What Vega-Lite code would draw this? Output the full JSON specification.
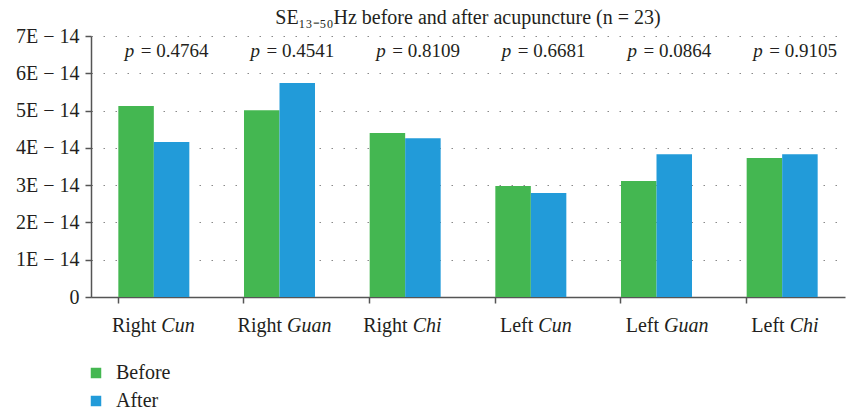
{
  "$schema": "https://vega.github.io/schema/vega-lite/v6.json",
  "width": 754,
  "height": 261,
  "autosize": {"type": "none"},
  "padding": {"left": 91, "top": 36, "right": 2, "bottom": 115},
  "background": "white",
  "config": {
    "font": "Liberation Serif",
    "view": {"stroke": null}
  },
  "title": {
    "text": "SE₁₃₋₅₀Hz before and after acupuncture (n = 23)",
    "font": "Liberation Serif",
    "fontSize": 20,
    "fontWeight": "normal",
    "color": "#231f20",
    "anchor": "middle",
    "offset": -2
  },
  "resolve": {"axis": {"y": "independent"}},
  "datasets": {
    "bars": [
      {"site": "Right Cun", "group": "Before", "value": 5.12e-14},
      {"site": "Right Cun", "group": "After", "value": 4.16e-14},
      {"site": "Right Guan", "group": "Before", "value": 5.01e-14},
      {"site": "Right Guan", "group": "After", "value": 5.74e-14},
      {"site": "Right Chi", "group": "Before", "value": 4.40e-14},
      {"site": "Right Chi", "group": "After", "value": 4.26e-14},
      {"site": "Left Cun", "group": "Before", "value": 2.98e-14},
      {"site": "Left Cun", "group": "After", "value": 2.79e-14},
      {"site": "Left Guan", "group": "Before", "value": 3.11e-14},
      {"site": "Left Guan", "group": "After", "value": 3.83e-14},
      {"site": "Left Chi", "group": "Before", "value": 3.73e-14},
      {"site": "Left Chi", "group": "After", "value": 3.83e-14}
    ],
    "labels": [
      {"site": "Right Cun", "side": "Right", "point": "Cun", "p": "= 0.4764"},
      {"site": "Right Guan", "side": "Right", "point": "Guan", "p": "= 0.4541"},
      {"site": "Right Chi", "side": "Right", "point": "Chi", "p": "= 0.8109"},
      {"site": "Left Cun", "side": "Left", "point": "Cun", "p": "= 0.6681"},
      {"site": "Left Guan", "side": "Left", "point": "Guan", "p": "= 0.0864"},
      {"site": "Left Chi", "side": "Left", "point": "Chi", "p": "= 0.9105"}
    ]
  },
  "encoding": {
    "x": {
      "field": "site",
      "type": "nominal",
      "sort": ["Right Cun", "Right Guan", "Right Chi", "Left Cun", "Left Guan", "Left Chi"],
      "scale": {"paddingInner": 0.435, "paddingOuter": 0.2175},
      "axis": {
        "title": null,
        "labels": false,
        "bandPosition": 0,
        "tickSize": 6,
        "tickColor": "#555555",
        "tickWidth": 1.5,
        "domainColor": "#555555",
        "domainWidth": 1.5,
        "grid": false
      }
    }
  },
  "layer": [
    {
      "data": {"name": "bars"},
      "mark": {"type": "bar"},
      "encoding": {
        "xOffset": {"field": "group", "type": "nominal", "sort": ["Before", "After"], "scale": {"paddingInner": 0, "paddingOuter": 0}},
        "y": {
          "field": "value",
          "type": "quantitative",
          "scale": {"domain": [0, 7e-14], "nice": false},
          "axis": {
            "title": null,
            "values": [0, 1e-14, 2e-14, 3e-14, 4e-14, 5e-14, 6e-14, 7e-14],
            "labelExpr": "datum.value == 0 ? '0' : round(datum.value * 1e14) + 'E − 14'",
            "labelFont": "Liberation Serif",
            "labelFontSize": 20,
            "labelColor": "#231f20",
            "labelOverlap": false,
            "labelPadding": 6,
            "tickSize": 6,
            "tickColor": "#555555",
            "tickWidth": 1.5,
            "domainColor": "#555555",
            "domainWidth": 1.5,
            "grid": true,
            "gridColor": "#8a8a8a",
            "gridDash": [1.5, 10.5],
            "gridWidth": 1.2
          }
        },
        "color": {
          "field": "group",
          "type": "nominal",
          "sort": ["Before", "After"],
          "scale": {"domain": ["Before", "After"], "range": ["#44b751", "#229bd9"]},
          "legend": {
            "title": null,
            "orient": "none",
            "legendX": -5,
            "legendY": 327,
            "direction": "vertical",
            "symbolType": "square",
            "symbolSize": 110,
            "symbolStrokeWidth": 0,
            "labelFont": "Liberation Serif",
            "labelFontSize": 20,
            "labelColor": "#231f20",
            "labelOffset": 10,
            "rowPadding": 8,
            "padding": 0
          }
        }
      }
    },
    {
      "data": {"name": "labels"},
      "mark": {"type": "text", "align": "right", "baseline": "alphabetic", "dx": 2.5, "dy": 35, "fontSize": 20, "font": "Liberation Serif", "color": "#231f20"},
      "encoding": {
        "y": {"datum": 0, "type": "quantitative", "axis": null},
        "text": {"field": "side"}
      }
    },
    {
      "data": {"name": "labels"},
      "mark": {"type": "text", "align": "left", "baseline": "alphabetic", "dx": 7.5, "dy": 35, "fontSize": 20, "font": "Liberation Serif", "fontStyle": "italic", "color": "#231f20"},
      "encoding": {
        "y": {"datum": 0, "type": "quantitative", "axis": null},
        "text": {"field": "point"}
      }
    },
    {
      "data": {"name": "labels"},
      "mark": {"type": "text", "align": "left", "baseline": "alphabetic", "dx": -29, "fontSize": 19, "font": "Liberation Serif", "fontStyle": "italic", "color": "#231f20"},
      "encoding": {
        "y": {"datum": 6.44e-14, "type": "quantitative", "axis": null},
        "text": {"value": "p"}
      }
    },
    {
      "data": {"name": "labels"},
      "mark": {"type": "text", "align": "left", "baseline": "alphabetic", "dx": -13, "fontSize": 19, "font": "Liberation Serif", "color": "#231f20"},
      "encoding": {
        "y": {"datum": 6.44e-14, "type": "quantitative", "axis": null},
        "text": {"field": "p"}
      }
    }
  ]
}
